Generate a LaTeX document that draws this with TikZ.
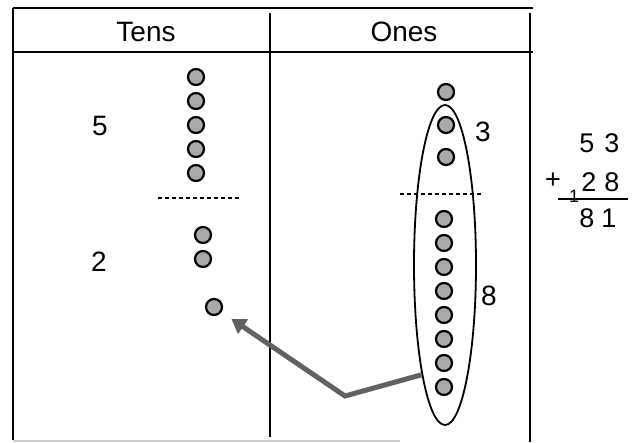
\documentclass[tikz,border=0pt]{standalone}
\usepackage{fontspec}
\setmainfont{Liberation Sans}
\usetikzlibrary{shapes,arrows.meta,positioning}
\tikzstyle{Dot} = [draw, circle, fill=gray!67, line width=2.2pt, minimum size=16pt, inner sep=0pt]
\tikzstyle{Digit} = [inner sep=0pt, font=\fontsize{28}{30}\selectfont]
\tikzstyle{Sum} = [inner sep=0pt, font=\fontsize{27}{29}\selectfont]
\tikzstyle{Rule} = [line width=2pt]
\tikzstyle{Cut} = [line width=1.8pt, dash pattern=on 4pt off 3pt]

\begin{document}
\begin{tikzpicture}[x=1pt, y=-1pt]
    \useasboundingbox (0,0) rectangle (632,442);
    % place value table
    \draw[Rule] (13,8) -- (533,8);
    \draw[Rule] (13,52) -- (533,52);
    \draw[Rule] (13,8) -- (13,440);
    \draw[Rule] (270,13) -- (270,437);
    \draw[Rule] (530,13) -- (530,442);
    \draw[gray!40, line width=1.2pt] (13,441) -- (400,441);
    \node[Digit] (tens) at (146,32) {Tens};
    \node[Digit] (ones) at (404,32) {Ones};

    % tens column
    \foreach \y [count=\i] in {77,101,125,149,173}
      \node[Dot] (t\i) at (196,\y) {};
    \draw[Cut] (158,198) -- (240,198);
    \foreach \y [count=\i] in {235,259}
      \node[Dot] (s\i) at (203,\y) {};
    \node[Dot] (moved) at (214,307) {};
    \node[Digit] (five) at (100,126) {5};
    \node[Digit] (two)  at (99,262)  {2};

    % ones column
    \node[draw, ellipse, line width=1.8pt, minimum width=62pt, minimum height=320pt] (group) at (445,265) {};
    \foreach \y [count=\i] in {92,125,157}
      \node[Dot] (o\i) at (446,\y) {};
    \draw[Cut] (400,194) -- (482,194);
    \foreach \y [count=\i] in {219,243,267,291,315,339,363,387}
      \node[Dot] (e\i) at (444,\y) {};
    \node[Digit] (three) at (483,132) {3};
    \node[Digit] (eight) at (489,296) {8};

    % regroup ten ones
    \coordinate (bend) at (345,396);
    \draw[-{Triangle[length=14pt, width=17pt]}, line width=5pt, black!62, shorten >=12pt] (group.258) -- (bend) -- (moved);

    % written sum
    \node[Sum] (a1) at (587,143) {5};
    \node[Sum] (a2) at (612,143) {3};
    \node[Sum] (plus) at (553,181) {+};
    \node[Sum] (b1) at (589,182) {2};
    \node[Sum] (b2) at (612,182) {8};
    \node[inner sep=0pt, font=\fontsize{18}{20}\selectfont] (carry) at (574,196) {1};
    \draw[line width=2pt] (558,199) -- (628,199);
    \node[Sum] (c1) at (587,218) {8};
    \node[Sum] (c2) at (609,218) {1};
\end{tikzpicture}
\end{document}
